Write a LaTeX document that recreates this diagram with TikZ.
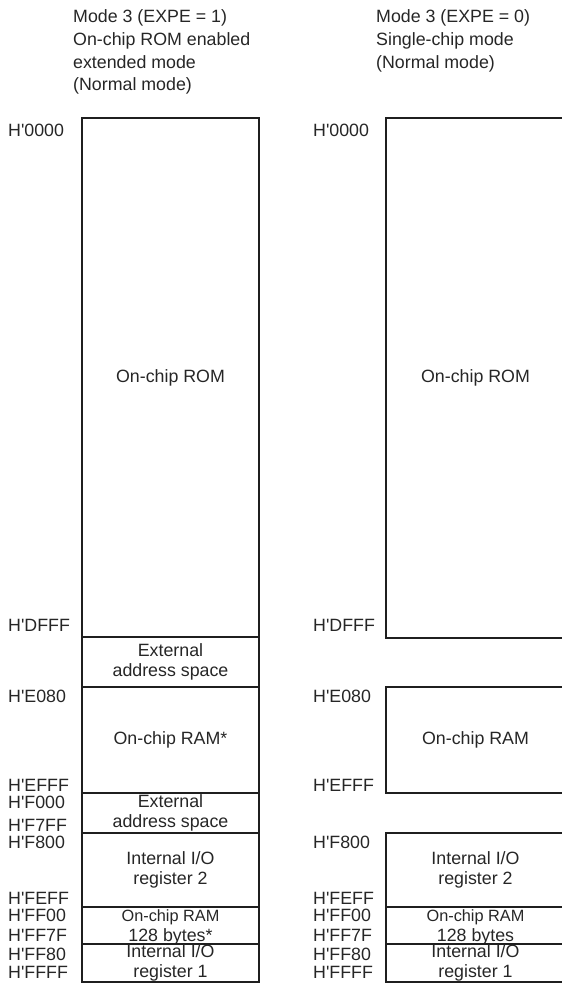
\documentclass[tikz,border=0pt]{standalone}
\usepackage{fontspec}
\setmainfont{Liberation Sans}[Ligatures=TeXOff]
\begin{document}
\begin{tikzpicture}[x=1pt,y=-1pt,
  mem/.style={draw=black!88, line width=2.3pt, inner sep=0pt, align=center, text=black!85,
              font=\fontsize{17.8}{20}\selectfont},
  memL/.style={mem, minimum width=177pt},
  memR/.style={mem, minimum width=179pt},
  addr/.style={anchor=west, inner sep=0pt, font=\fontsize{17.8}{20}\selectfont, text=black!85},
  ttl/.style={anchor=north west, inner sep=0pt, align=left, text=black!85,
              font=\fontsize{17.8}{22.7}\selectfont},
  small/.style={font=\fontsize{16.3}{19}\selectfont, yscale=0.9}
]
\useasboundingbox (0,0) rectangle (562,983);

% titles
\node[ttl] (t1) at (73,9.6) {Mode 3 (EXPE = 1)\\On-chip ROM enabled\\extended mode\\(Normal mode)};
\node[ttl] (t2) at (376,9.6) {Mode 3 (EXPE = 0)\\Single-chip mode\\(Normal mode)};

% left column boxes
\node[memL, minimum height=519pt] (romL) at (170.5,377.5) {On-chip ROM};
\node[memL, minimum height=50pt] (ext1L) at (170.5,662) {\fontsize{17.8}{19}\selectfont External\\address space};
\node[memL, minimum height=106pt] (ramL) at (170.5,740) {On-chip RAM*};
\node[memL, minimum height=40pt] (ext2L) at (170.5,813) {\fontsize{17.8}{18}\selectfont External\\address space};
\node[memL, minimum height=74pt] (io2L) at (170.5,870) {\fontsize{17.8}{23}\selectfont Internal I/O\\register 2};
\node[memL, minimum height=37pt, text depth=0pt] (sramL) at (170.5,925.5) {\fontsize{16.3}{19}\selectfont On-chip RAM\\128 bytes*};
\node[memL, minimum height=38pt] (io1L) at (170.5,963) {\fontsize{17.8}{17}\selectfont Internal I/O\\register 1};

% left column addresses
\node[addr] (a1) at (8,130) {H'0000};
\node[addr] (a2) at (8,625) {H'DFFF};
\node[addr] (a3) at (8,696) {H'E080};
\node[addr] (a4) at (8,785) {H'EFFF};
\node[addr] (a5) at (8,802) {H'F000};
\node[addr] (a6) at (8,825) {H'F7FF};
\node[addr] (a7) at (8,842) {H'F800};
\node[addr] (a8) at (8,898) {H'FEFF};
\node[addr] (a9) at (8,915) {H'FF00};
\node[addr] (a10) at (8,935) {H'FF7F};
\node[addr] (a11) at (8,954) {H'FF80};
\node[addr] (a12) at (8,972) {H'FFFF};

% right column boxes
\node[memR, minimum height=520pt] (romR) at (475.5,378) {On-chip ROM};
\node[memR, minimum height=106pt] (ramR) at (475.5,740) {On-chip RAM};
\node[memR, minimum height=74pt] (io2R) at (475.5,870) {\fontsize{17.8}{23}\selectfont Internal I/O\\register 2};
\node[memR, minimum height=37pt, text depth=0pt] (sramR) at (475.5,925.5) {\fontsize{16.3}{19}\selectfont On-chip RAM\\128 bytes};
\node[memR, minimum height=38pt] (io1R) at (475.5,963) {\fontsize{17.8}{17}\selectfont Internal I/O\\register 1};

% right column addresses
\node[addr] (b1) at (313,130) {H'0000};
\node[addr] (b2) at (313,625) {H'DFFF};
\node[addr] (b3) at (313,696) {H'E080};
\node[addr] (b4) at (313,785) {H'EFFF};
\node[addr] (b7) at (313,842) {H'F800};
\node[addr] (b8) at (313,898) {H'FEFF};
\node[addr] (b9) at (313,915) {H'FF00};
\node[addr] (b10) at (313,935) {H'FF7F};
\node[addr] (b11) at (313,954) {H'FF80};
\node[addr] (b12) at (313,972) {H'FFFF};
\end{tikzpicture}
\end{document}
